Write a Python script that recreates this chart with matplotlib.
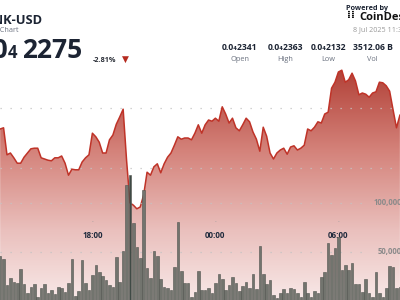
import numpy as np
import pandas as pd
import matplotlib
matplotlib.use("Agg")
import matplotlib.pyplot as plt
from matplotlib import transforms

# ---------------- data ----------------
start_time = "2025-07-07 13:30"
# close prices in units of 1e-8 USD (0.0₄xxxx)
prices = [2265, 2267, 2222, 2225, 2217, 2208, 2208, 2218, 2225, 2232,
          2233, 2233, 2217, 2215, 2213, 2212, 2217, 2217, 2220, 2208,
          2188, 2198, 2197, 2197, 2210, 2217, 2222, 2258, 2252, 2243,
          2225, 2225, 2247, 2255, 2273, 2285, 2298, 2213, 2142, 2138,
          2132, 2135, 2155, 2193, 2188, 2202, 2207, 2192, 2207, 2218,
          2225, 2238, 2252, 2248, 2250, 2250, 2247, 2258, 2272, 2258,
          2272, 2280, 2278, 2283, 2278, 2302, 2290, 2275, 2283, 2267,
          2262, 2272, 2283, 2277, 2260, 2248, 2228, 2268, 2253, 2225,
          2215, 2225, 2230, 2233, 2223, 2235, 2237, 2230, 2233, 2238,
          2265, 2262, 2268, 2277, 2275, 2290, 2293, 2333, 2343, 2360,
          2363, 2343, 2347, 2358, 2345, 2322, 2325, 2323, 2318, 2325,
          2327, 2343, 2342, 2337, 2328, 2297, 2267, 2288]
volumes = [45900, 42900, 16300, 23500, 19400, 18400, 32700, 17300, 8200, 14300,
           17300, 4100, 13300, 17300, 8200, 11200, 7100, 14300, 13300, 9200,
           18400, 42900, 5100, 10200, 41800, 18400, 11200, 26500, 36700, 29600,
           25500, 21400, 16300, 14300, 44900, 19400, 51000, 118400, 128600, 79600,
           55100, 43900, 113300, 33700, 23500, 51000, 45900, 22400, 14300, 13300,
           11200, 34700, 80600, 30600, 18400, 18400, 4100, 9200, 30600, 11200,
           11200, 13300, 8200, 18400, 27600, 22400, 11200, 16300, 24500, 18400,
           10200, 15300, 19400, 13300, 27600, 12200, 56100, 27600, 17300, 21400,
           6100, 3100, 8200, 12200, 8200, 13300, 12200, 8200, 4100, 19400,
           8200, 4100, 10200, 8200, 24500, 29600, 59200, 46900, 54100, 65300,
           31600, 36700, 31600, 38800, 17300, 17300, 9200, 22400, 8200, 4100,
           29600, 8200, 4100, 13300, 35700, 34700, 13300, 14300]
highlight_index = 38
price_grid = [2300, 2200]
vol_grid = [100000, 50000]
vol_grid_labels = ["100,000", "50,000"]
tick_times = ["2025-07-07 18:00", "2025-07-08 00:00", "2025-07-08 06:00"]
tick_labels = ["18:00", "00:00", "06:00"]
stat_values = ["0.0₄2341", "0.0₄2363", "0.0₄2132", "3512.06 B"]
stat_names = ["Open", "High", "Low", "Vol"]

# ---------------- setup ----------------
plt.rcParams['font.family'] = ['Open Sans', 'DejaVu Sans']
W, H = 400, 300
fig = plt.figure(figsize=(4, 3), dpi=100)
fig.patch.set_facecolor("white")

base = pd.Timestamp("2025-07-07 00:00")
times = pd.date_range(start_time, periods=len(prices), freq="10min")
t = np.array((times - base) / pd.Timedelta(hours=1), dtype=float)
ticks_h = [(pd.Timestamp(s) - base) / pd.Timedelta(hours=1) for s in tick_times]

ax = fig.add_axes([0, 0, 1, 1])
ax.set_xlim(13.493, 33.005)
ax.set_ylim(1980, 2480)
ax.axis("off")

# gradient fill under the price line
py = np.arange(H)
stops_y = [0, 60, 150, 230, 300]
cols = np.array([[168, 48, 40], [174, 58, 48], [212, 130, 122], [234, 192, 189], [248, 233, 232]]) / 255
grad = np.stack([np.interp(py, stops_y, cols[:, c]) for c in range(3)], axis=-1)[:, None, :]
im = ax.imshow(grad, extent=[13.493, 33.005, 1980, 2480], aspect="auto", origin="upper", zorder=1)
poly = ax.fill_between(t, prices, 1900, facecolor="none", edgecolor="none")
im.set_clip_path(poly.get_paths()[0], transform=ax.transData)
ax.plot(t, prices, color="#bf3328", lw=1.1, zorder=3, solid_joinstyle="round")

for g in price_grid:
    ax.axhline(g, color="#c4c4c4", lw=0.9, ls=(0, (1, 7)), zorder=2)

# volume bars
ax2 = ax.twinx()
ax2.set_ylim(1020, 307143)
ax2.axis("off")
colors = ["#3f4a45" if i == highlight_index else "#72746e" for i in range(len(volumes))]
ax2.bar(t, volumes, width=0.125, color=colors, edgecolor="#50534e", linewidth=0.4, zorder=4)
trans_px = transforms.Affine2D().scale(1 / W, 1 / H) + fig.transFigure
vt = transforms.blended_transform_factory(trans_px, ax2.transData)
for g, lab, xpx in zip(vol_grid, vol_grid_labels, [374, 378]):
    ax2.axhline(g, xmax=0.925, color="#c4c4c4", lw=0.9, ls=(0, (1, 7)), zorder=2)
    ax2.text(xpx, g, lab, ha="left", va="center", fontsize=5.6,
             color="#8a8a8a", fontweight="bold", transform=vt)

# time ticks
bt = transforms.blended_transform_factory(ax.transData, trans_px)
for th, lab in zip(ticks_h, tick_labels):
    ax.text(th, H - 223, "·", ha="center", va="center", fontsize=5, color="#999999", transform=bt, zorder=5)
    ax.text(th, H - 236, lab, ha="center", va="center", fontsize=5.8, color="#1f2a3c",
            fontweight="bold", transform=bt, zorder=5)

def ftext(x, y, s, **kw):
    fig.text(x / W, 1 - y / H, s, **kw)

# header
ftext(43, 24, "BONK-USD", ha="right", va="baseline", fontsize=9.3, fontweight="bold", color="#1c2433")
ftext(18.5, 32, "Price Chart", ha="right", va="baseline", fontsize=5.2, color="#6b7280")
ftext(7.5, 58, "0.0", ha="right", va="baseline", fontsize=19, fontweight="bold", color="#1c2433")
ftext(8, 58, "4", ha="left", va="baseline", fontsize=12, fontweight="bold", color="#1c2433")
ftext(22.5, 58, "2275", ha="left", va="baseline", fontsize=19, fontweight="bold", color="#1c2433")
ftext(93, 62, "-2.81%", ha="left", va="baseline", fontsize=5.2, fontweight="bold", color="#2b2f38")
ftext(125, 59.5, "▼", ha="center", va="center", fontsize=6.5, color="#b52a1f",
      family=["DejaVu Sans"])

ftext(346, 9.5, "Powered by", ha="left", va="baseline", fontsize=5.2, fontweight="bold", color="#1c2433")
ftext(347, 15, "⁞⁞", ha="left", va="center", fontsize=7.5, fontweight="bold", color="#111111",
      family=["DejaVu Sans"])
ftext(359, 19.5, "CoinDesk", ha="left", va="baseline", fontsize=8, fontweight="bold", color="#111111")
ftext(353, 31, "8 Jul 2025 11:32", ha="left", va="baseline", fontsize=5.2, color="#9a9a9a")

stat_x = [240, 285, 328.5, 372.5]
for x, v, n in zip(stat_x, stat_values, stat_names):
    ftext(x, 50, v, ha="center", va="baseline", fontsize=6.2, fontweight="bold", color="#1c2433",
          family=["Open Sans", "DejaVu Sans"])
    ftext(x, 61, n, ha="center", va="baseline", fontsize=5.3, color="#6b7280")

fig.savefig("out.png", dpi=100)
